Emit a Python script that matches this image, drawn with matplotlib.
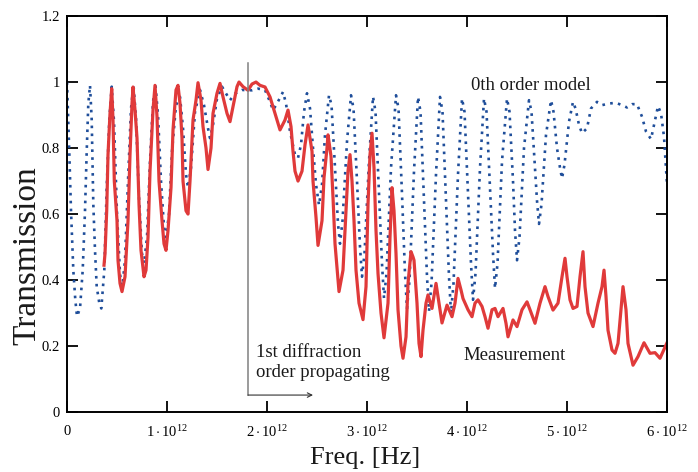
"""Transmission vs frequency: 0th order model (dotted) against measurement."""

import matplotlib
matplotlib.use("Agg")
import matplotlib.pyplot as plt
import numpy as np

plt.rcParams["font.family"] = ["Liberation Serif", "DejaVu Serif"]
plt.rcParams["mathtext.fontset"] = "custom"
plt.rcParams["mathtext.rm"] = "Liberation Serif"
plt.rcParams["mathtext.it"] = "Liberation Serif:italic"

# frequency in units of 1e12 Hz, transmission
model_freq = [
    0.00, 0.023, 0.04, 0.063, 0.083, 0.10, 0.13, 0.157, 0.18, 0.197, 0.213, 0.23,
    0.247, 0.263, 0.28, 0.297, 0.323, 0.343, 0.373, 0.397, 0.423, 0.447,
    0.47, 0.50, 0.53, 0.55, 0.58, 0.61, 0.64, 0.665, 0.69, 0.72, 0.75, 0.77,
    0.80, 0.83, 0.86, 0.885, 0.91, 0.94, 0.97, 0.99, 1.02, 1.05, 1.09, 1.13,
    1.16, 1.19, 1.21, 1.24, 1.28, 1.33, 1.37, 1.41, 1.43, 1.46, 1.50, 1.55,
    1.60, 1.63, 1.68, 1.75, 1.85, 1.91, 1.98, 2.03, 2.06, 2.10, 2.16, 2.19,
    2.23, 2.28, 2.31, 2.34, 2.37, 2.40, 2.43, 2.46, 2.49, 2.52, 2.55, 2.58,
    2.62, 2.645, 2.68, 2.71, 2.73, 2.755, 2.80, 2.84, 2.865, 2.90, 2.93, 2.95,
    2.975, 3.02, 3.06, 3.085, 3.12, 3.15, 3.17, 3.195, 3.24, 3.29, 3.315, 3.35,
    3.38, 3.40, 3.425, 3.47, 3.51, 3.535, 3.57, 3.60, 3.62, 3.645, 3.69, 3.73,
    3.755, 3.79, 3.82, 3.84, 3.865, 3.91, 3.95, 3.975, 4.01, 4.04, 4.06, 4.085,
    4.13, 4.17, 4.195, 4.23, 4.26, 4.28, 4.305, 4.35, 4.40, 4.425, 4.46, 4.48,
    4.50, 4.525, 4.57, 4.62, 4.645, 4.68, 4.70, 4.72, 4.745, 4.79, 4.84, 4.865,
    4.90, 4.93, 4.95, 4.975, 5.02, 5.06, 5.085, 5.12, 5.15, 5.20, 5.24, 5.30,
    5.35, 5.42, 5.49, 5.55, 5.60, 5.65, 5.70, 5.75, 5.79, 5.84, 5.88, 5.91,
    5.94, 5.97, 6.00,
]
model_trans = [
    1.00, 0.784, 0.61, 0.43, 0.34, 0.29, 0.314, 0.43, 0.61, 0.79, 0.935, 0.99,
    0.885, 0.63, 0.49, 0.38, 0.33, 0.314, 0.43, 0.68, 0.885, 0.986,
    0.88, 0.60, 0.42, 0.37, 0.46, 0.70, 0.92, 0.99, 0.89, 0.65, 0.48, 0.45,
    0.53, 0.76, 0.94, 0.99, 0.90, 0.70, 0.56, 0.53, 0.60, 0.79, 0.93, 0.955,
    0.86, 0.72, 0.68, 0.74, 0.91, 0.976, 0.93, 0.86, 0.83, 0.87, 0.95, 0.986,
    0.96, 0.945, 0.965, 0.976, 0.975, 0.98, 0.976, 0.94, 0.915, 0.935, 0.97, 0.935,
    0.85, 0.78, 0.77, 0.81, 0.91, 0.966, 0.92, 0.80, 0.69, 0.627, 0.69, 0.84,
    0.96, 0.93, 0.74, 0.57, 0.51, 0.58, 0.82, 0.96, 0.92, 0.70, 0.50, 0.41,
    0.48, 0.76, 0.956, 0.91, 0.66, 0.45, 0.345, 0.42, 0.74, 0.96, 0.92, 0.66,
    0.42, 0.314, 0.40, 0.73, 0.955, 0.91, 0.64, 0.41, 0.305, 0.39, 0.72, 0.955,
    0.91, 0.64, 0.41, 0.30, 0.39, 0.72, 0.95, 0.91, 0.66, 0.45, 0.34, 0.42,
    0.74, 0.95, 0.91, 0.68, 0.48, 0.375, 0.45, 0.76, 0.95, 0.91, 0.70, 0.55,
    0.46, 0.53, 0.80, 0.945, 0.91, 0.74, 0.64, 0.57, 0.63, 0.84, 0.945, 0.91,
    0.80, 0.74, 0.708, 0.75, 0.88, 0.94, 0.92, 0.87, 0.845, 0.86, 0.92, 0.94,
    0.93, 0.935, 0.937, 0.93, 0.923, 0.933, 0.933, 0.895, 0.85, 0.827, 0.885, 0.927,
    0.905, 0.834, 0.69,
]

meas_freq = [
    0.37, 0.38, 0.397, 0.41, 0.43, 0.447, 0.46, 0.473, 0.50, 0.51, 0.53, 0.55,
    0.58, 0.61, 0.63, 0.65, 0.66, 0.68, 0.70, 0.72, 0.74, 0.77, 0.79, 0.81,
    0.83, 0.86, 0.88, 0.90, 0.92, 0.95, 0.97, 0.99, 1.01, 1.04, 1.06, 1.09,
    1.11, 1.13, 1.15, 1.16, 1.19, 1.21, 1.23, 1.26, 1.29, 1.31, 1.34, 1.36,
    1.39, 1.41, 1.44, 1.46, 1.50, 1.53, 1.56, 1.60, 1.63, 1.66, 1.70, 1.72,
    1.76, 1.81, 1.85, 1.89, 1.93, 1.98, 2.03, 2.08, 2.10, 2.13, 2.18, 2.21,
    2.24, 2.26, 2.28, 2.31, 2.35, 2.38, 2.41, 2.45, 2.46, 2.49, 2.51, 2.55,
    2.57, 2.60, 2.61, 2.64, 2.66, 2.68, 2.72, 2.76, 2.79, 2.81, 2.83, 2.85,
    2.87, 2.89, 2.92, 2.96, 2.99, 3.01, 3.03, 3.05, 3.07, 3.09, 3.11, 3.14,
    3.17, 3.21, 3.23, 3.25, 3.27, 3.29, 3.31, 3.34, 3.36, 3.39, 3.41, 3.44,
    3.46, 3.47, 3.50, 3.52, 3.54, 3.56, 3.59, 3.61, 3.65, 3.69, 3.72, 3.75,
    3.80, 3.85, 3.88, 3.91, 3.94, 3.96, 4.01, 4.05, 4.08, 4.11, 4.15, 4.18,
    4.21, 4.25, 4.28, 4.31, 4.36, 4.39, 4.41, 4.46, 4.50, 4.55, 4.60, 4.63,
    4.68, 4.73, 4.78, 4.81, 4.86, 4.91, 4.95, 4.98, 5.00, 5.03, 5.06, 5.10,
    5.13, 5.16, 5.18, 5.21, 5.26, 5.31, 5.35, 5.37, 5.39, 5.41, 5.45, 5.48,
    5.51, 5.54, 5.56, 5.59, 5.61, 5.66, 5.71, 5.77, 5.83, 5.88, 5.93, 6.00,
]
meas_trans = [
    0.445, 0.48, 0.61, 0.78, 0.905, 0.98, 0.885, 0.70, 0.58, 0.46, 0.39, 0.365,
    0.41, 0.58, 0.78, 0.935, 0.985, 0.915, 0.83, 0.63, 0.49, 0.41, 0.43, 0.53,
    0.73, 0.915, 0.99, 0.895, 0.70, 0.58, 0.51, 0.49, 0.55, 0.68, 0.855, 0.976,
    0.99, 0.935, 0.83, 0.70, 0.61, 0.60, 0.70, 0.885, 0.945, 0.998, 0.945, 0.865,
    0.80, 0.735, 0.80, 0.905, 0.966, 0.996, 0.955, 0.905, 0.88, 0.925, 0.986, 1.0,
    0.986, 0.975, 0.994, 1.0, 0.99, 0.985, 0.955, 0.905, 0.885, 0.855, 0.885, 0.915,
    0.865, 0.79, 0.73, 0.70, 0.73, 0.81, 0.87, 0.79, 0.70, 0.59, 0.505, 0.58,
    0.71, 0.80, 0.84, 0.775, 0.65, 0.51, 0.365, 0.43, 0.61, 0.73, 0.78, 0.70,
    0.58, 0.43, 0.33, 0.28, 0.38, 0.63, 0.78, 0.845, 0.74, 0.55, 0.42, 0.30,
    0.225, 0.33, 0.53, 0.68, 0.61, 0.48, 0.31, 0.20, 0.163, 0.228, 0.39, 0.486,
    0.47, 0.46, 0.33, 0.208, 0.168, 0.248, 0.33, 0.355, 0.314, 0.39, 0.33, 0.27,
    0.324, 0.289, 0.33, 0.405, 0.37, 0.344, 0.31, 0.289, 0.33, 0.34, 0.32, 0.289,
    0.254, 0.31, 0.314, 0.289, 0.314, 0.269, 0.228, 0.279, 0.259, 0.31, 0.334, 0.31,
    0.269, 0.33, 0.38, 0.35, 0.309, 0.33, 0.41, 0.466, 0.41, 0.34, 0.314, 0.32,
    0.41, 0.486, 0.38, 0.30, 0.259, 0.33, 0.38, 0.43, 0.35, 0.248, 0.188, 0.178,
    0.208, 0.31, 0.38, 0.31, 0.208, 0.142, 0.168, 0.21, 0.178, 0.18, 0.163, 0.21,
]

x_ticks = [0, 1, 2, 3, 4, 5, 6]
x_tick_labels = ["0"] + [rf"${k}\cdot10^{{12}}$" for k in x_ticks[1:]]
y_ticks = [0, 0.2, 0.4, 0.6, 0.8, 1.0, 1.2]
y_tick_labels = ["0", "0.2", "0.4", "0.6", "0.8", "1", "1.2"]

cutoff_freq = 1.81   # onset of first diffraction order
arrow_end = 2.46

SCALE = 1e12
BLUE = "#1f4e9a"
RED = "#e03a3a"
TXT = "#1a1a1a"

fig = plt.figure(figsize=(6.98, 4.72), dpi=100)
ax = fig.add_axes([0.096, 0.127, 0.8596, 0.839])

ax.plot(np.array(model_freq) * SCALE, model_trans, color=BLUE,
        linewidth=1.9, linestyle=(0, (1, 2.0)))
ax.plot(np.array(meas_freq) * SCALE, meas_trans, color=RED, linewidth=2.3)

# vertical marker + arrow for the diffraction cut-off
ax.plot([cutoff_freq * SCALE] * 2, [0.0515, 1.057], color="#808080", linewidth=1.1)
ax.annotate("", xy=(arrow_end * SCALE, 0.0515), xytext=(cutoff_freq * SCALE, 0.0515),
            arrowprops=dict(arrowstyle="->", color="#333333", linewidth=0.8,
                            shrinkA=0, shrinkB=0, mutation_scale=8))
ax.text(1.885 * SCALE, 0.205, "1st diffraction\norder propagating",
        fontsize=13.5, ha="left", va="top", linespacing=1.2, color=TXT)
ax.text(4.64 * SCALE, 0.99, "0th order model", fontsize=13.5, ha="center",
        va="center", color=TXT)
ax.text(4.48 * SCALE, 0.172, "Measurement", fontsize=13.5, ha="center",
        va="center", color=TXT)

ax.set_xlim(0, 6 * SCALE)
ax.set_ylim(0, 1.2)
ax.set_xticks([t * SCALE for t in x_ticks])
ax.set_xticklabels(x_tick_labels)
ax.set_yticks(y_ticks)
ax.set_yticklabels(y_tick_labels)
ax.tick_params(direction="in", top=True, right=True, length=8, width=1.3,
               labelsize=10.5, colors="black")
ax.tick_params(axis="x", pad=9)
ax.tick_params(axis="y", pad=5)
for sp in ax.spines.values():
    sp.set_linewidth(1.4)

fig.text(365 / 698, 1 - 458 / 472, "Freq. [Hz]", fontsize=19, ha="center",
         va="center", color=TXT)
fig.text(27 / 698, 1 - 256 / 472, "Transmission", fontsize=24, rotation=90,
         ha="center", va="center", color=TXT)

fig.savefig("out.png", dpi=100)
